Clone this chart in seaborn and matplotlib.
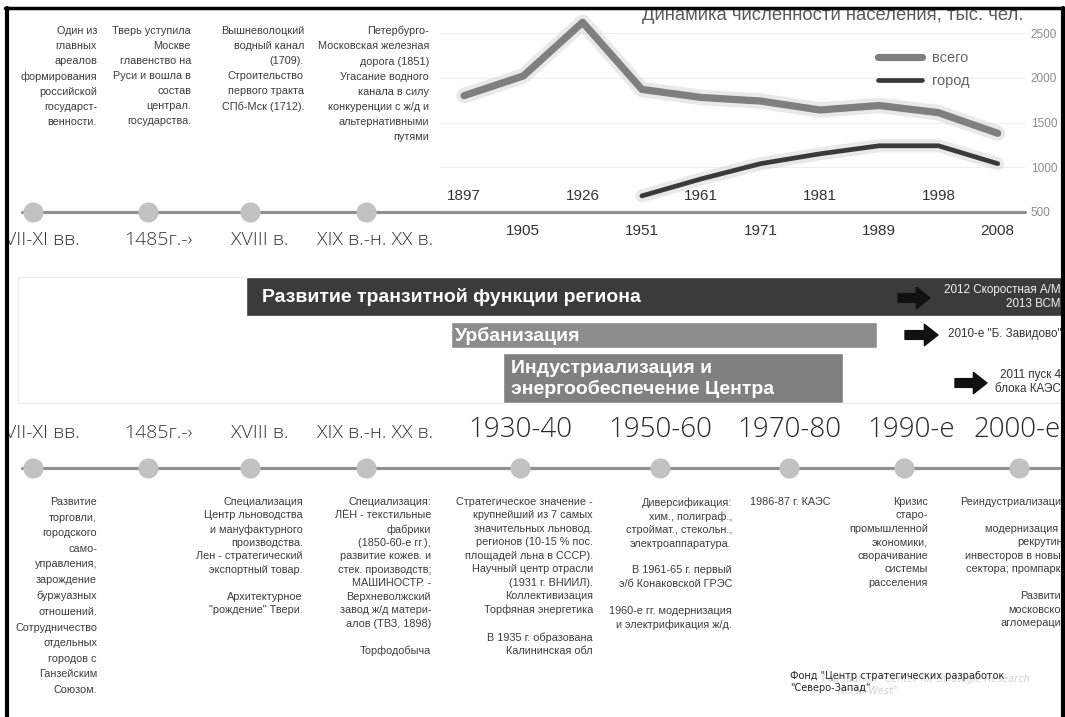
import numpy as np
import pandas as pd
import matplotlib
matplotlib.use('Agg')
import matplotlib.pyplot as plt
import seaborn as sns
from matplotlib.lines import Line2D
from matplotlib.patches import Rectangle

# population of the region, thousand people
years = ['1897', '1905', '1926', '1951', '1961', '1971', '1981', '1989', '1998', '2008']
total_pop = [1800, 2020, 2620, 1870, 1780, 1740, 1640, 1690, 1610, 1380]
urban_years = ['1951', '1961', '1971', '1981', '1989', '1998', '2008']
urban_pop = [680, 870, 1040, 1150, 1240, 1240, 1040]
pop_ticks = [500, 1000, 1500, 2000, 2500]
pop_title = 'Динамика численности населения, тыс. чел.'
legend_labels = ['всего', 'город']

# timeline periods
eras = ['VII-XI вв.', '1485г.-›', 'XVIII в.', 'XIX в.-н. XX в.']
modern_eras = ['1930-40', '1950-60', '1970-80', '1990-е', '2000-е']

top_notes = [
    'Один из\nглавных\nареалов\nформирования\nроссийской\nгосударст-\nвенности.',
    'Тверь уступила\nМоскве\nглавенство на\nРуси и вошла в\nсостав\nцентрал.\nгосударства.',
    'Вышневолоцкий\nводный канал\n(1709).\nСтроительство\nпервого тракта\nСПб-Мск (1712).',
    'Петербурго-\nМосковская железная\nдорога (1851)\nУгасание водного\nканала в силу\n'
    'конкуренции с ж/д и\nальтернативными\nпутями',
]
bottom_notes = [
    'Развитие\nторговли,\nгородского\nсамо-\nуправления,\nзарождение\nбуржуазных\nотношений.\n'
    'Сотрудничество\nотдельных\nгородов с\nГанзейским\nСоюзом.',
    '',
    'Специализация\nЦентр льноводства\nи мануфактурного\nпроизводства.\nЛен - стратегический\n'
    'экспортный товар.\n\nАрхитектурное\n"рождение" Твери.',
    'Специализация:\nЛЁН - текстильные\nфабрики\n(1850-60-е гг.),\nразвитие кожев. и\n'
    'стек. производств;\nМАШИНОСТР. -\nВерхневолжский\nзавод ж/д матери-\nалов (ТВЗ, 1898)\n\nТорфодобыча',
    'Стратегическое значение -\nкрупнейший из 7 самых\nзначительных льновод.\nрегионов (10-15 % пос.\n'
    'площадей льна в СССР).\nНаучный центр отрасли\n(1931 г. ВНИИЛ).\nКоллективизация\n'
    'Торфяная энергетика\n\nВ 1935 г. образована\nКалининская обл',
    'Диверсификация:\nхим., полиграф.,\nстроймат., стекольн.,\nэлектроаппаратура.\n\n'
    'В 1961-65 г. первый\nэ/б Конаковской ГРЭС\n\n1960-е гг. модернизация\nи электрификация ж/д.',
    '1986-87 г. КАЭС',
    'Кризис\nстаро-\nпромышленной\nэкономики,\nсворачивание\nсистемы\nрасселения',
    'Реиндустриализация\n\nмодернизация и\nрекрутинг\nинвесторов в новые\nсектора; промпарки\n\n'
    'Развитие\nмосковской\nагломерации',
]

stripes = ['Развитие транзитной функции региона', 'Урбанизация',
           'Индустриализация и\nэнергообеспечение Центра']
stripe_notes = ['2012 Скоростная А/М\n2013 ВСМ', '2010-е "Б. Завидово"', '2011 пуск 4\nблока КАЭС']

footer = 'Фонд "Центр стратегических разработок\n"Северо-Запад"'
watermark = 'Foundation "Center for Strategic Research\n     North-West"'

# layout, in pixels of the 1065x717 picture
W, H = 1065, 717
era_x = [33, 148, 250, 366, 520, 660, 789, 904, 1019]
era_label_x = [42, 158, 260, 375, 520, 660, 789, 911, 1017]
top_note_right = [97, 191, 304, 429]
top_note_spacing = [1.63, 1.63, 1.63, 1.63]
bottom_note_right = [97, 148, 303, 431, 593, 732, 830, 928, 1067]
bottom_note_spacing = [1.70, 1.43, 1.43, 1.43, 1.43, 1.43, 1.43, 1.43, 1.43]
stripe_left = [246, 451, 503]
stripe_right = [1065, 877, 843]
stripe_top = [277, 322, 353]
stripe_bottom = [316, 348, 403]
stripe_colors = ['#3b3b3b', '#8c8c8c', '#808080']
stripe_text_x = [262, 455, 511]
stripe_note_colors = ['#f2f2f2', '#333333', '#333333']
arrow_x = [(898, 930), (905, 938), (955, 987)]
arrow_y = [298, 335, 383]

sns.set_theme(style='white')
plt.rcParams['font.family'] = ['Liberation Sans', 'DejaVu Sans']
ERA_FONT = ['Open Sans', 'DejaVu Sans']
NOTE_KW = dict(fontsize=7.8, color='#3c3c3c', ha='right', va='top', multialignment='right')

fig = plt.figure(figsize=(W / 100, H / 100), dpi=100)
canvas = fig.add_axes([0, 0, 1, 1])
canvas.set_xlim(0, W)
canvas.set_ylim(H, 0)
canvas.axis('off')


def fig_rect(x0, y0, x1, y1):
    return [x0 / W, 1 - y1 / H, (x1 - x0) / W, (y1 - y0) / H]


# --- timelines
for y, n0, n1, x_end in [(212, 0, 4, 1025), (468, 0, 9, 1059)]:
    canvas.plot([22, x_end], [y, y], color='#8f8f8f', lw=2.3, zorder=2)
    canvas.scatter(era_x[n0:n1], [y] * (n1 - n0), s=210, color='#c2c2c2', lw=0, zorder=3)

for lab, x in zip(eras, era_label_x):
    canvas.text(x, 240, lab, ha='center', va='center', fontsize=14, family=ERA_FONT,
                weight='light', color='#333333')
    canvas.text(x, 433, lab, ha='center', va='center', fontsize=14, family=ERA_FONT,
                weight='light', color='#333333')
for lab, x in zip(modern_eras, era_label_x[4:]):
    canvas.text(x, 430, lab, ha='center', va='center', fontsize=20, family=ERA_FONT,
                weight='light', color='#2a2a2a')

# --- notes
for txt, x, ls in zip(top_notes, top_note_right, top_note_spacing):
    canvas.text(x, 26, txt, linespacing=ls, **NOTE_KW)
for txt, x, ls in zip(bottom_notes, bottom_note_right, bottom_note_spacing):
    canvas.text(x, 497, txt, linespacing=ls, **NOTE_KW)

# --- stripes of development
canvas.add_patch(Rectangle((18, 277), 1044, 126, fill=False, ec='#ebebeb', lw=1))
canvas.barh([(t + b) / 2 for t, b in zip(stripe_top, stripe_bottom)],
            [r - l for l, r in zip(stripe_left, stripe_right)],
            left=stripe_left, height=[b - t for t, b in zip(stripe_top, stripe_bottom)],
            color=stripe_colors, zorder=2)
for lab, x, t, b in zip(stripes, stripe_text_x, stripe_top, stripe_bottom):
    canvas.text(x, (t + b) / 2 + 1, lab, ha='left', va='center', fontsize=14, weight='bold',
                color='white', linespacing=1.2, zorder=3)
for note, (x0, x1), y, c in zip(stripe_notes, arrow_x, arrow_y, stripe_note_colors):
    canvas.annotate('', xy=(x1, y), xytext=(x0, y), zorder=4,
                    arrowprops=dict(arrowstyle='simple,head_length=0.7,head_width=1.1,tail_width=0.45',
                                    color='#111111', mutation_scale=14, shrinkA=0, shrinkB=0))
    canvas.text(1061, y - 1, note, ha='right', va='center', fontsize=8.4, color=c,
                multialignment='right', linespacing=1.25, zorder=4)

# --- population chart
ax = fig.add_axes(fig_rect(440, 12, 1025, 212))
ax.set_facecolor('none')
df_total = pd.DataFrame({'pos': np.arange(len(years)), 'pop': total_pop})
df_urban = pd.DataFrame({'pos': [years.index(y) for y in urban_years], 'pop': urban_pop})
for df, col, lw in [(df_total, '#7f7f7f', 5.2), (df_urban, '#3a3a3a', 3.4)]:
    sns.lineplot(data=df, x='pos', y='pop', ax=ax, color='#cfcfcf', lw=lw + 6, alpha=0.45,
                 errorbar=None, solid_capstyle='round')
    sns.lineplot(data=df, x='pos', y='pop', ax=ax, color=col, lw=lw, errorbar=None,
                 solid_capstyle='round')
ax.set_xlim(-0.405, 9.46)
ax.set_ylim(500, 2735)
ax.set_xticks([])
ax.set_yticks(pop_ticks)
ax.yaxis.tick_right()
ax.tick_params(axis='y', length=0, pad=4, labelsize=8.5, labelcolor='#8c8c8c')
ax.grid(axis='y', color='#efefef', lw=0.8)
ax.set_axisbelow(True)
ax.set_xlabel('')
ax.set_ylabel('')
for s in ax.spines.values():
    s.set_visible(False)
for i, yr in enumerate(years):
    yfrac = 0.08 if i % 2 == 0 else -0.095
    ax.text(i, yfrac, yr, transform=ax.get_xaxis_transform(), ha='center', va='center',
            fontsize=11, color='#333333')
handles = [Line2D([], [], color='#7f7f7f', lw=5.2), Line2D([], [], color='#3a3a3a', lw=3.4)]
ax.legend(handles, legend_labels, loc='upper left', bbox_to_anchor=(878 / W, 1 - 51 / H),
          bbox_transform=fig.transFigure, frameon=False, fontsize=10.5, labelcolor='#666666',
          handlelength=3, handletextpad=0.7, labelspacing=0.65, borderpad=0, borderaxespad=0)
canvas.text(1023, 16, pop_title, ha='right', va='center', fontsize=13.3, color='#5a5a5a')

# --- footer
canvas.text(822, 685, watermark, ha='left', va='center', fontsize=7, style='italic',
            family='DejaVu Sans', color='#d3d3d3', linespacing=1.3)
canvas.text(790, 682, footer, ha='left', va='center', fontsize=7, family='DejaVu Sans',
            color='#262626', linespacing=1.3)

# --- frame
canvas.plot([7, 7], [8, H], color='black', lw=3, zorder=5)
canvas.plot([1063, 1063], [8, H], color='black', lw=3, zorder=5)
canvas.plot([5, W], [8, 8], color='black', lw=2.5, zorder=5)

fig.savefig('out.png', dpi=100, facecolor='white')
